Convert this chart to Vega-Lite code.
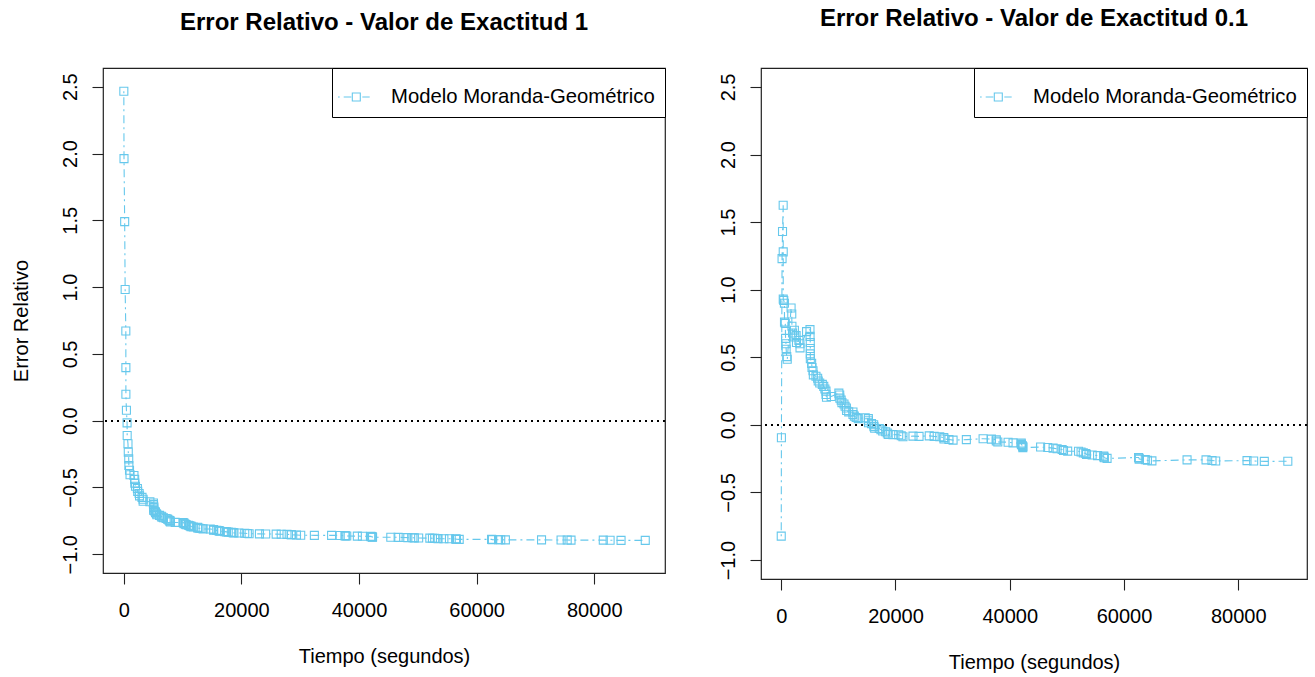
{
"$schema": "https://vega.github.io/schema/vega-lite/v6.json",
"background": "white",
"padding": {"left": 10, "top": 5, "right": 5, "bottom": 5},
"datasets": {
"exact1": [
{"i":1,"t":3,"re":2.466},{"i":2,"t":33,"re":1.962},{"i":3,"t":146,"re":1.490},{"i":4,"t":227,"re":0.982},{"i":5,"t":342,"re":0.671},{"i":6,"t":351,"re":0.397},{"i":7,"t":353,"re":0.198},{"i":8,"t":444,"re":0.078},{"i":9,"t":556,"re":-0.016},{"i":10,"t":571,"re":-0.111},
{"i":11,"t":709,"re":-0.172},{"i":12,"t":759,"re":-0.235},{"i":13,"t":836,"re":-0.286},{"i":14,"t":860,"re":-0.335},{"i":15,"t":968,"re":-0.371},{"i":16,"t":1056,"re":-0.405},{"i":17,"t":1726,"re":-0.410},{"i":18,"t":1846,"re":-0.439},{"i":19,"t":1872,"re":-0.467},{"i":20,"t":1986,"re":-0.491},
{"i":21,"t":2311,"re":-0.508},{"i":22,"t":2366,"re":-0.529},{"i":23,"t":2608,"re":-0.545},{"i":24,"t":2676,"re":-0.563},{"i":25,"t":3098,"re":-0.574},{"i":26,"t":3278,"re":-0.588},{"i":27,"t":3288,"re":-0.603},{"i":28,"t":4434,"re":-0.607},{"i":29,"t":5034,"re":-0.616},{"i":30,"t":5049,"re":-0.628},
{"i":31,"t":5085,"re":-0.640},{"i":32,"t":5089,"re":-0.651},{"i":33,"t":5089,"re":-0.662},{"i":34,"t":5097,"re":-0.672},{"i":35,"t":5324,"re":-0.680},{"i":36,"t":5389,"re":-0.688},{"i":37,"t":5565,"re":-0.696},{"i":38,"t":5623,"re":-0.704},{"i":39,"t":6080,"re":-0.709},{"i":40,"t":6380,"re":-0.715},
{"i":41,"t":6477,"re":-0.722},{"i":42,"t":6740,"re":-0.727},{"i":43,"t":7192,"re":-0.732},{"i":44,"t":7447,"re":-0.737},{"i":45,"t":7644,"re":-0.743},{"i":46,"t":7837,"re":-0.748},{"i":47,"t":7843,"re":-0.753},{"i":48,"t":7922,"re":-0.758},{"i":49,"t":8738,"re":-0.761},{"i":50,"t":10089,"re":-0.763},
{"i":51,"t":10237,"re":-0.767},{"i":52,"t":10258,"re":-0.771},{"i":53,"t":10491,"re":-0.775},{"i":54,"t":10625,"re":-0.779},{"i":55,"t":10982,"re":-0.783},{"i":56,"t":11175,"re":-0.786},{"i":57,"t":11411,"re":-0.789},{"i":58,"t":11442,"re":-0.793},{"i":59,"t":11811,"re":-0.796},{"i":60,"t":12559,"re":-0.798},
{"i":61,"t":12559,"re":-0.802},{"i":62,"t":12791,"re":-0.805},{"i":63,"t":13121,"re":-0.807},{"i":64,"t":13486,"re":-0.810},{"i":65,"t":14708,"re":-0.811},{"i":66,"t":15251,"re":-0.814},{"i":67,"t":15261,"re":-0.816},{"i":68,"t":15277,"re":-0.819},{"i":69,"t":15806,"re":-0.821},{"i":70,"t":16185,"re":-0.823},
{"i":71,"t":16229,"re":-0.826},{"i":72,"t":16358,"re":-0.828},{"i":73,"t":17168,"re":-0.830},{"i":74,"t":17458,"re":-0.832},{"i":75,"t":17758,"re":-0.834},{"i":76,"t":18287,"re":-0.836},{"i":77,"t":18568,"re":-0.838},{"i":78,"t":18728,"re":-0.840},{"i":79,"t":19556,"re":-0.841},{"i":80,"t":20567,"re":-0.842},
{"i":81,"t":21012,"re":-0.844},{"i":82,"t":21308,"re":-0.846},{"i":83,"t":23063,"re":-0.847},{"i":84,"t":24127,"re":-0.848},{"i":85,"t":25910,"re":-0.849},{"i":86,"t":26770,"re":-0.850},{"i":87,"t":27753,"re":-0.851},{"i":88,"t":28460,"re":-0.853},{"i":89,"t":28493,"re":-0.854},{"i":90,"t":29361,"re":-0.856},
{"i":91,"t":30085,"re":-0.857},{"i":92,"t":32408,"re":-0.858},{"i":93,"t":35338,"re":-0.858},{"i":94,"t":36799,"re":-0.859},{"i":95,"t":37642,"re":-0.861},{"i":96,"t":37654,"re":-0.862},{"i":97,"t":37915,"re":-0.863},{"i":98,"t":39715,"re":-0.864},{"i":99,"t":40580,"re":-0.865},{"i":100,"t":42015,"re":-0.866},
{"i":101,"t":42045,"re":-0.868},{"i":102,"t":42188,"re":-0.869},{"i":103,"t":42296,"re":-0.870},{"i":104,"t":42296,"re":-0.872},{"i":105,"t":45406,"re":-0.872},{"i":106,"t":46653,"re":-0.873},{"i":107,"t":47596,"re":-0.874},{"i":108,"t":48296,"re":-0.875},{"i":109,"t":49171,"re":-0.876},{"i":110,"t":49416,"re":-0.877},
{"i":111,"t":50145,"re":-0.878},{"i":112,"t":52042,"re":-0.879},{"i":113,"t":52489,"re":-0.880},{"i":114,"t":52875,"re":-0.881},{"i":115,"t":53321,"re":-0.882},{"i":116,"t":53443,"re":-0.883},{"i":117,"t":54433,"re":-0.884},{"i":118,"t":55381,"re":-0.884},{"i":119,"t":56463,"re":-0.885},{"i":120,"t":56485,"re":-0.886},
{"i":121,"t":56560,"re":-0.887},{"i":122,"t":57042,"re":-0.888},{"i":123,"t":62551,"re":-0.888},{"i":124,"t":62651,"re":-0.889},{"i":125,"t":62661,"re":-0.890},{"i":126,"t":63732,"re":-0.891},{"i":127,"t":64103,"re":-0.891},{"i":128,"t":64893,"re":-0.892},{"i":129,"t":71043,"re":-0.892},{"i":130,"t":74364,"re":-0.893},
{"i":131,"t":75409,"re":-0.893},{"i":132,"t":76057,"re":-0.894},{"i":133,"t":81542,"re":-0.894},{"i":134,"t":82702,"re":-0.895},{"i":135,"t":84566,"re":-0.896},{"i":136,"t":88682,"re":-0.896}
],
"exact01": [
{"i":1,"t":3,"re":-0.823},{"i":2,"t":33,"re":-0.095},{"i":3,"t":146,"re":1.23},{"i":4,"t":227,"re":1.43},{"i":5,"t":342,"re":1.625},{"i":6,"t":351,"re":1.28},{"i":7,"t":353,"re":0.93},{"i":8,"t":444,"re":0.92},{"i":9,"t":556,"re":0.90},{"i":10,"t":571,"re":0.76},
{"i":11,"t":709,"re":0.75},{"i":12,"t":759,"re":0.64},{"i":13,"t":836,"re":0.60},{"i":14,"t":860,"re":0.56},{"i":15,"t":968,"re":0.505},{"i":16,"t":1056,"re":0.485},{"i":17,"t":1726,"re":0.865},{"i":18,"t":1846,"re":0.82},{"i":19,"t":1872,"re":0.73},{"i":20,"t":1986,"re":0.68},
{"i":21,"t":2311,"re":0.70},{"i":22,"t":2366,"re":0.65},{"i":23,"t":2608,"re":0.66},{"i":24,"t":2676,"re":0.61},{"i":25,"t":3098,"re":0.625},{"i":26,"t":3278,"re":0.60},{"i":27,"t":3288,"re":0.57},{"i":28,"t":4434,"re":0.69},{"i":29,"t":5034,"re":0.705},{"i":30,"t":5049,"re":0.655},
{"i":31,"t":5085,"re":0.61},{"i":32,"t":5089,"re":0.565},{"i":33,"t":5089,"re":0.525},{"i":34,"t":5097,"re":0.49},{"i":35,"t":5324,"re":0.455},{"i":36,"t":5389,"re":0.425},{"i":37,"t":5565,"re":0.40},{"i":38,"t":5623,"re":0.37},{"i":39,"t":6080,"re":0.36},{"i":40,"t":6380,"re":0.345},
{"i":41,"t":6477,"re":0.325},{"i":42,"t":6740,"re":0.31},{"i":43,"t":7192,"re":0.30},{"i":44,"t":7447,"re":0.285},{"i":45,"t":7644,"re":0.265},{"i":46,"t":7837,"re":0.25},{"i":47,"t":7843,"re":0.225},{"i":48,"t":7922,"re":0.205},{"i":49,"t":8738,"re":0.21},{"i":50,"t":10089,"re":0.235},
{"i":51,"t":10237,"re":0.221},{"i":52,"t":10258,"re":0.198},{"i":53,"t":10491,"re":0.183},{"i":54,"t":10625,"re":0.165},{"i":55,"t":10982,"re":0.154},{"i":56,"t":11175,"re":0.138},{"i":57,"t":11411,"re":0.125},{"i":58,"t":11442,"re":0.106},{"i":59,"t":11811,"re":0.096},{"i":60,"t":12559,"re":0.095},
{"i":61,"t":12559,"re":0.077},{"i":62,"t":12791,"re":0.065},{"i":63,"t":13121,"re":0.055},{"i":64,"t":13486,"re":0.046},{"i":65,"t":14708,"re":0.053},{"i":66,"t":15251,"re":0.046},{"i":67,"t":15261,"re":0.031},{"i":68,"t":15277,"re":0.016},{"i":69,"t":15806,"re":0.009},{"i":70,"t":16185,"re":0.001},
{"i":71,"t":16229,"re":-0.013},{"i":72,"t":16358,"re":-0.025},{"i":73,"t":17168,"re":-0.027},{"i":74,"t":17458,"re":-0.036},{"i":75,"t":17758,"re":-0.045},{"i":76,"t":18287,"re":-0.051},{"i":77,"t":18568,"re":-0.060},{"i":78,"t":18728,"re":-0.070},{"i":79,"t":19556,"re":-0.072},{"i":80,"t":20567,"re":-0.073},
{"i":81,"t":21012,"re":-0.080},{"i":82,"t":21308,"re":-0.088},{"i":83,"t":23063,"re":-0.083},{"i":84,"t":24127,"re":-0.085},{"i":85,"t":25910,"re":-0.081},{"i":86,"t":26770,"re":-0.085},{"i":87,"t":27753,"re":-0.088},{"i":88,"t":28460,"re":-0.094},{"i":89,"t":28493,"re":-0.104},{"i":90,"t":29361,"re":-0.108},
{"i":91,"t":30085,"re":-0.113},{"i":92,"t":32408,"re":-0.109},{"i":93,"t":35338,"re":-0.102},{"i":94,"t":36799,"re":-0.105},{"i":95,"t":37642,"re":-0.110},{"i":96,"t":37654,"re":-0.119},{"i":97,"t":37915,"re":-0.127},{"i":98,"t":39715,"re":-0.128},{"i":99,"t":40580,"re":-0.133},{"i":100,"t":42015,"re":-0.135},
{"i":101,"t":42045,"re":-0.144},{"i":102,"t":42188,"re":-0.152},{"i":103,"t":42296,"re":-0.160},{"i":104,"t":42296,"re":-0.168},{"i":105,"t":45406,"re":-0.164},{"i":106,"t":46653,"re":-0.167},{"i":107,"t":47596,"re":-0.172},{"i":108,"t":48296,"re":-0.177},{"i":109,"t":49171,"re":-0.182},{"i":110,"t":49416,"re":-0.189},
{"i":111,"t":50145,"re":-0.194},{"i":112,"t":52042,"re":-0.195},{"i":113,"t":52489,"re":-0.201},{"i":114,"t":52875,"re":-0.207},{"i":115,"t":53321,"re":-0.212},{"i":116,"t":53443,"re":-0.219},{"i":117,"t":54433,"re":-0.223},{"i":118,"t":55381,"re":-0.227},{"i":119,"t":56463,"re":-0.231},{"i":120,"t":56485,"re":-0.237},
{"i":121,"t":56560,"re":-0.243},{"i":122,"t":57042,"re":-0.248},{"i":123,"t":62551,"re":-0.241},{"i":124,"t":62651,"re":-0.247},{"i":125,"t":62661,"re":-0.253},{"i":126,"t":63732,"re":-0.257},{"i":127,"t":64103,"re":-0.262},{"i":128,"t":64893,"re":-0.266},{"i":129,"t":71043,"re":-0.259},{"i":130,"t":74364,"re":-0.259},
{"i":131,"t":75409,"re":-0.263},{"i":132,"t":76057,"re":-0.267},{"i":133,"t":81542,"re":-0.264},{"i":134,"t":82702,"re":-0.267},{"i":135,"t":84566,"re":-0.270},{"i":136,"t":88682,"re":-0.269}
]
},
"config": {
"font": "Liberation Sans",
"view": {"stroke": "#222222", "strokeWidth": 1.2},
"axis": {"grid": false, "domain": false, "tickColor": "#222222", "tickSize": 11, "tickWidth": 1.1, "labelFont": "Liberation Sans", "labelFontSize": 20, "labelColor": "black", "titleFont": "Liberation Sans", "titleFontSize": 20, "titleFontWeight": "normal", "titleColor": "black", "labelFlush": false, "labelOverlap": false},
"axisX": {"labelPadding": 16, "titlePadding": 26},
"axisY": {"labelPadding": 12, "titlePadding": 29, "labelAngle": -90, "labelAlign": "center", "labelBaseline": "bottom"},
"title": {"font": "Liberation Sans", "fontSize": 24, "fontWeight": "bold", "color": "black", "offset": 32, "anchor": "middle"}
},
"bounds": "flush",
"spacing": 96,
"resolve": {"scale": {"color": "independent"}, "legend": {"color": "independent"}},
"hconcat": [
{
"width": 562, "height": 505,
"title": {"text": "Error Relativo - Valor de Exactitud 1", "offset": 33},
"data": {"name": "exact1"},
"layer": [
{"mark": {"type": "rule", "color": "black", "strokeDash": [2, 4], "strokeWidth": 1.2},
 "encoding": {"y": {"datum": 0, "type": "quantitative", "title": "Error Relativo", "scale": {"domain": [-1.14, 2.64], "nice": false, "zero": false}}}},
{"mark": {"type": "line", "color": "#66c8ec", "strokeWidth": 1.1, "strokeDash": [2, 4, 8, 4]},
 "encoding": {
  "x": {"field": "t", "type": "quantitative", "title": "Tiempo (segundos)", "scale": {"domain": [-3540, 92040], "nice": false, "zero": false}, "axis": {"values": [0, 20000, 40000, 60000, 80000], "format": "d"}},
  "y": {"field": "re", "type": "quantitative", "title": "Error Relativo", "scale": {"domain": [-1.14, 2.64], "nice": false, "zero": false}, "axis": {"values": [-1, -0.5, 0, 0.5, 1, 1.5, 2, 2.5], "format": ".1f"}},
  "order": {"field": "i"}}},
{"mark": {"type": "point", "shape": "square", "filled": false, "size": 64, "strokeWidth": 1.1, "opacity": 1},
 "encoding": {
  "x": {"field": "t", "type": "quantitative", "title": "Tiempo (segundos)"},
  "y": {"field": "re", "type": "quantitative", "title": "Error Relativo"},
  "color": {"datum": "Modelo Moranda-Geométrico", "scale": {"range": ["#66c8ec"]},
   "legend": {"title": null, "orient": "top-right", "offset": 0, "padding": 9.5, "strokeColor": "black", "fillColor": "white", "labelFont": "Liberation Sans", "labelFontSize": 20.3, "labelColor": "black", "labelLimit": 500, "labelOffset": 10.5, "symbolSize": 1369, "symbolStrokeWidth": 1.1, "symbolFillColor": "transparent", "symbolType": "M-1.243,0L-1.151,0M-0.935,0L-0.524,0M-0.47,-0.216L-0.038,-0.216L-0.038,0.216L-0.47,0.216ZM0.07,0L0.47,0"}}}}
]
},
{
"width": 546, "height": 511,
"title": {"text": "Error Relativo - Valor de Exactitud 0.1", "offset": 37},
"data": {"name": "exact01"},
"layer": [
{"mark": {"type": "rule", "color": "black", "strokeDash": [2, 4], "strokeWidth": 1.2},
 "encoding": {"y": {"datum": 0, "type": "quantitative", "title": null, "scale": {"domain": [-1.14, 2.64], "nice": false, "zero": false}}}},
{"mark": {"type": "line", "color": "#66c8ec", "strokeWidth": 1.1, "strokeDash": [2, 4, 8, 4]},
 "encoding": {
  "x": {"field": "t", "type": "quantitative", "title": "Tiempo (segundos)", "scale": {"domain": [-3540, 92040], "nice": false, "zero": false}, "axis": {"values": [0, 20000, 40000, 60000, 80000], "format": "d"}},
  "y": {"field": "re", "type": "quantitative", "title": null, "scale": {"domain": [-1.14, 2.64], "nice": false, "zero": false}, "axis": {"values": [-1, -0.5, 0, 0.5, 1, 1.5, 2, 2.5], "format": ".1f"}},
  "order": {"field": "i"}}},
{"mark": {"type": "point", "shape": "square", "filled": false, "size": 64, "strokeWidth": 1.1, "opacity": 1},
 "encoding": {
  "x": {"field": "t", "type": "quantitative", "title": "Tiempo (segundos)"},
  "y": {"field": "re", "type": "quantitative", "title": null},
  "color": {"datum": "Modelo Moranda-Geométrico", "scale": {"range": ["#66c8ec"]},
   "legend": {"title": null, "orient": "top-right", "offset": 0, "padding": 9.5, "strokeColor": "black", "fillColor": "white", "labelFont": "Liberation Sans", "labelFontSize": 20.3, "labelColor": "black", "labelLimit": 500, "labelOffset": 10.5, "symbolSize": 1369, "symbolStrokeWidth": 1.1, "symbolFillColor": "transparent", "symbolType": "M-1.243,0L-1.151,0M-0.935,0L-0.524,0M-0.47,-0.216L-0.038,-0.216L-0.038,0.216L-0.47,0.216ZM0.07,0L0.47,0"}}}}
]
}
]
}
